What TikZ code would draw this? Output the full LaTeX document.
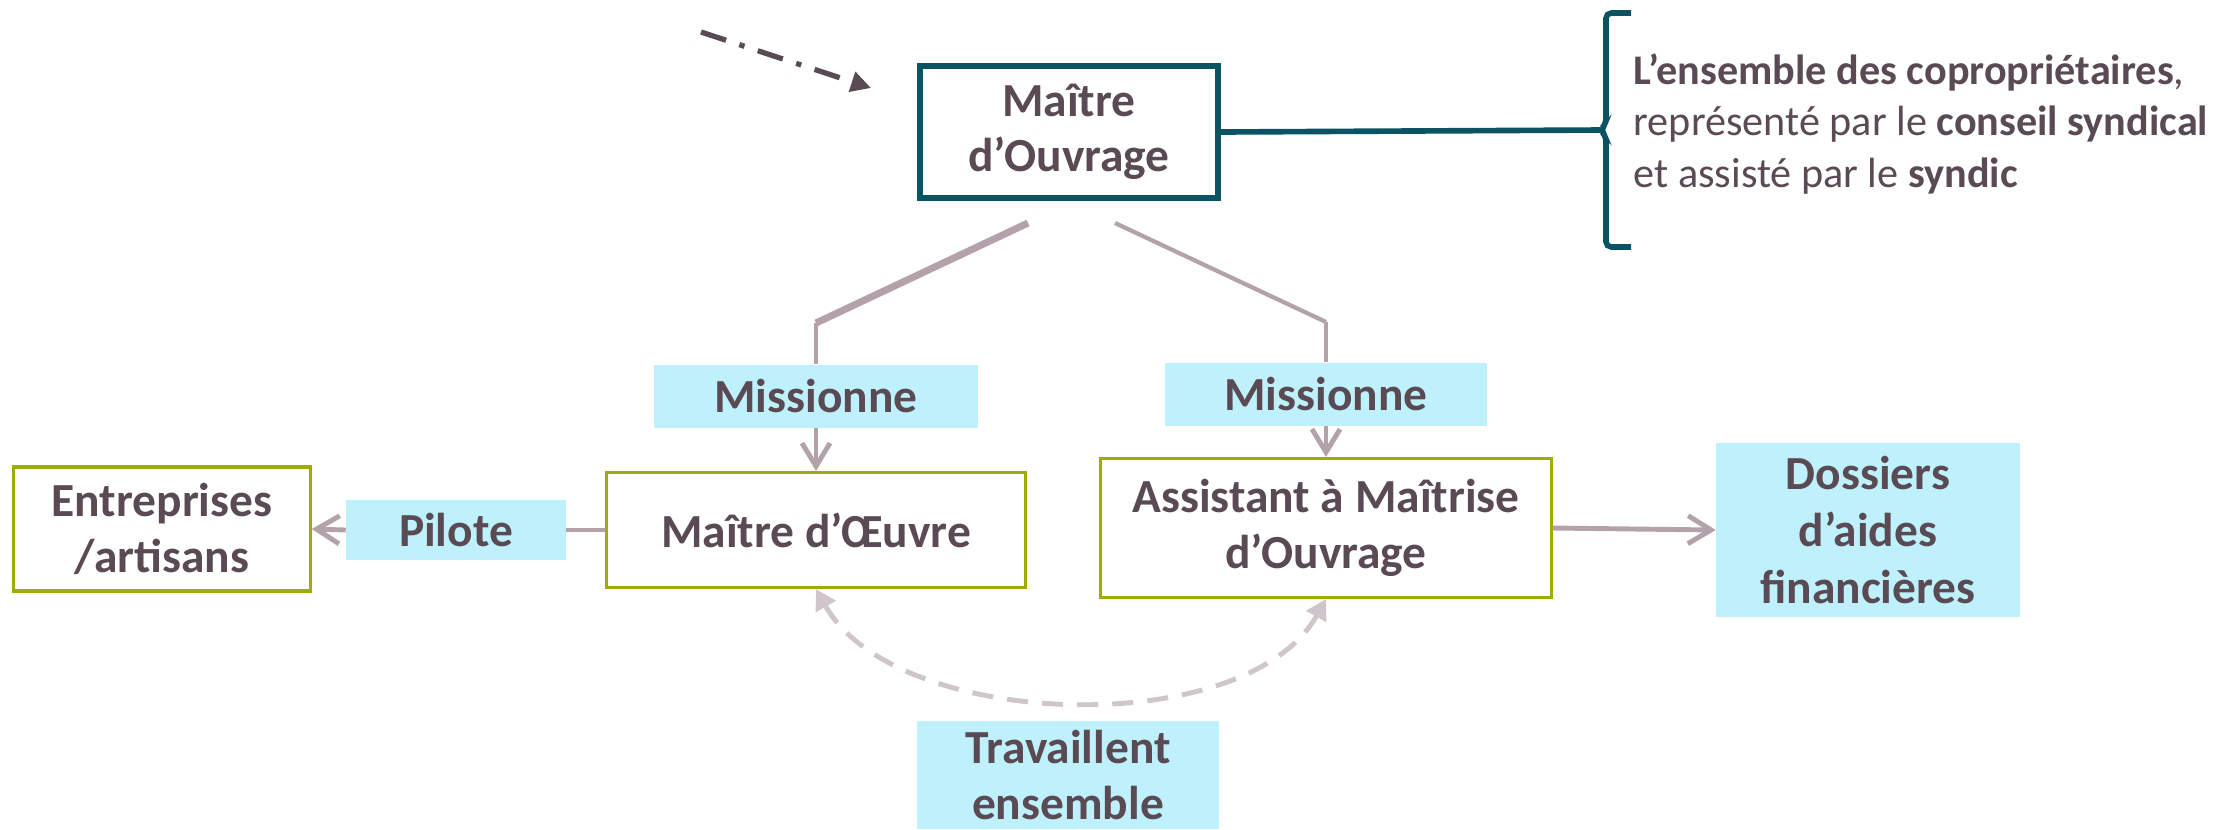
\documentclass[tikz,border=0pt]{standalone}
\usepackage{fontspec}
\setmainfont{Carlito}
\usepackage{tikz}
\usetikzlibrary{arrows.meta}
\definecolor{mtext}{HTML}{5A4A53}
\definecolor{mteal}{HTML}{0B5263}
\definecolor{mgreen}{HTML}{9EAE00}
\definecolor{mcyan}{HTML}{BEF1FC}
\definecolor{mlink}{HTML}{B3A2AA}
\definecolor{mdash}{HTML}{CFC5CA}
\begin{document}
\begin{tikzpicture}[x=0.01cm,y=-0.01cm,
  every node/.style={text=mtext,font=\fontsize{13.5}{15.8}\selectfont\bfseries,align=center,inner sep=0pt},
  moabox/.style={draw=mteal,line width=1.7pt,minimum width=2.97cm,minimum height=1.31cm},
  gbox/.style={draw=mgreen,line width=0.9pt,fill=white},
  tag/.style={fill=mcyan},
  link/.style={draw=mlink,line width=1.4pt},
  tip/.style={-{Straight Barb[length=2.3mm,width=2.8mm]}},
  work/.style={draw=mdash,line width=1.4pt,dash pattern=on 6pt off 4pt,{Triangle[length=2mm,width=2.2mm]}-{Triangle[length=2mm,width=2.2mm]}}]
  \useasboundingbox (0,0) rectangle (2239,829);
  \node[moabox] (moa) at (1069,132) {Maître\\d’Ouvrage};
  \node[anchor=west,align=left,font=\fontsize{12}{14.7}\selectfont\mdseries] (info) at (1633,124)
    {\textbf{L’ensemble des copropriétaires},\\représenté par le \textbf{conseil syndical}\\et assisté par le \textbf{syndic}};
  \node[gbox,minimum width=2.96cm,minimum height=1.24cm] (ent) at (162,529) {Entreprises\\/artisans};
  \node[gbox,minimum width=4.18cm,minimum height=1.15cm] (moe) at (816,530) {Maître d’Œuvre};
  \node[gbox,minimum width=4.50cm,minimum height=1.39cm] (amo) at (1326,528) {Assistant à Maîtrise\\d’Ouvrage};
  \node[tag,minimum width=3.03cm,minimum height=1.74cm,font=\fontsize{13.5}{16.2}\selectfont\bfseries] (dos) at (1868,530) {Dossiers\\d’aides\\financières};
  \node[tag,minimum width=3.23cm,minimum height=0.63cm] (mis1) at (816,396) {Missionne};
  \node[tag,minimum width=3.22cm,minimum height=0.63cm] (mis2) at (1326,394) {Missionne};
  \node[tag,minimum width=2.19cm,minimum height=0.60cm] (pil) at (456,530) {Pilote};
  \node[tag,minimum width=3.01cm,minimum height=1.08cm] (trav) at (1068,775) {Travaillent\\ensemble};

  \coordinate (d1) at (701,32);
  \coordinate (d2) at (871,88);
  \coordinate (cusp) at (1600,130);
  \coordinate (a1) at (1028,223);
  \coordinate (a2) at (816,323);
  \coordinate (b1) at (1115,223);
  \coordinate (b2) at (1326,322);

  \draw[mtext,line width=1.5pt,dash pattern=on 7.5pt off 4pt on 1.5pt off 4pt,-{Triangle[length=2mm,width=2mm]}] (d1) -- (d2);
  \draw[mteal,line width=1.6pt] (moa.east) -- (cusp);
  \draw[mteal,line width=1.6pt,rounded corners=1.5pt] (1631,13) -- (1606,13) -- (1606,124) -- (cusp) -- (1606,136) -- (1606,247) -- (1631,247);
  \draw[link,line width=2pt] (a1) -- (a2);
  \draw[link] (a2) -- (mis1.north);
  \draw[link,tip] (mis1.south) -- (moe.north);
  \draw[link,line width=1.2pt] (b1) -- (b2);
  \draw[link] (b2) -- (mis2.north);
  \draw[link,tip] (mis2.south) -- (amo.north);
  \draw[link] (moe.west) -- (pil.east);
  \draw[link,tip] (pil.west) -- (ent.east);
  \draw[link,tip] (amo.east) -- (dos.west);
  \draw[work] (moe.south) .. controls (896,731) and (1246,741) .. (amo.south);
\end{tikzpicture}
\end{document}
